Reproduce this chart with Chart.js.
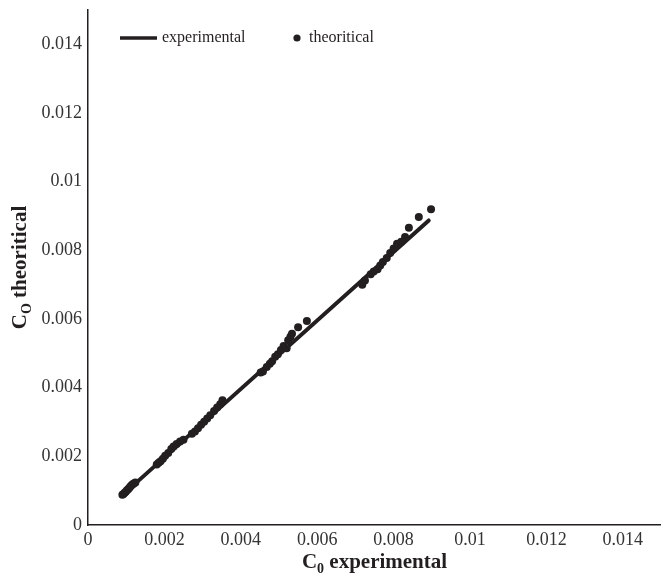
<!DOCTYPE html>
<html>
<head>
<meta charset="utf-8">
<script src="https://cdn.jsdelivr.net/npm/chart.js@4.4.0/dist/chart.umd.min.js"></script>
<style>
  html, body { margin: 0; padding: 0; background: #ffffff; overflow: hidden; }
  #wrap { width: 661px; height: 574px; }
</style>
</head>
<body>
<div id="wrap"><canvas id="chart" width="661" height="574"></canvas></div>
<script>
// Tick positions shared by both axes
const tickValues = [0, 0.002, 0.004, 0.006, 0.008, 0.01, 0.012, 0.014];

// Experimental reference line (C0 experimental against itself)
const experimentalX = [0.00090, 0.00892];
const experimentalY = [0.00087, 0.00887];

// Theoretical concentrations against the experimental ones
const theoreticalX = [
  0.00090, 0.00093, 0.00096, 0.00099, 0.00102, 0.00105, 0.00108, 0.00111, 0.00114, 0.00117, 0.00120, 0.00124,
  0.00180, 0.00185, 0.00190, 0.00196, 0.00202, 0.00210, 0.00218, 0.00224, 0.00232, 0.00241, 0.00250,
  0.00272, 0.00280, 0.00288, 0.00296, 0.00304, 0.00312, 0.00320, 0.00330, 0.00338, 0.00346, 0.00352,
  0.00452, 0.00458, 0.00468, 0.00476, 0.00482, 0.00490, 0.00497, 0.00505, 0.00512, 0.00520, 0.00524, 0.00530, 0.00534, 0.00550, 0.00573,
  0.00718, 0.00725, 0.00740, 0.00748, 0.00758, 0.00765, 0.00772, 0.00782, 0.00791, 0.00800, 0.00809, 0.00820, 0.00830, 0.00840, 0.00866, 0.00898
];
const theoreticalY = [
  0.00088, 0.00090, 0.00094, 0.00097, 0.00101, 0.00104, 0.00108, 0.00112, 0.00116, 0.00119, 0.00121, 0.00124,
  0.00176, 0.00181, 0.00186, 0.00193, 0.00202, 0.00210, 0.00221, 0.00229, 0.00236, 0.00243, 0.00248,
  0.00266, 0.00272, 0.00282, 0.00292, 0.00301, 0.00310, 0.00320, 0.00332, 0.00342, 0.00352, 0.00363,
  0.00444, 0.00447, 0.00460, 0.00470, 0.00477, 0.00490, 0.00497, 0.00510, 0.00521, 0.00515, 0.00538, 0.00548, 0.00557, 0.00576, 0.00594,
  0.00700, 0.00712, 0.00730, 0.00738, 0.00745, 0.00756, 0.00766, 0.00778, 0.00792, 0.00805, 0.00819, 0.00825, 0.00839, 0.00866, 0.00897, 0.00920
];

const seriesNames = ['experimental', 'theoritical'];

const INK = '#231f20';
const SERIF = '"Liberation Serif", "Times New Roman", serif';

const toPoints = (xs, ys) => xs.map((x, i) => ({ x: x, y: ys[i] }));

const fmt = v => String(+v.toFixed(4));

// Axis titles with subscripts, plus the legend row at the top
const decorations = {
  id: 'decorations',
  afterDraw(chart) {
    const ctx = chart.ctx;
    const area = chart.chartArea;

    function runWidth(parts) {
      let w = 0;
      parts.forEach(p => { ctx.font = p.font; w += ctx.measureText(p.t).width; });
      return w;
    }
    function drawRun(parts, x, y) {
      let cx = x;
      parts.forEach(p => {
        ctx.font = p.font;
        ctx.fillText(p.t, cx, y + (p.dy || 0));
        cx += ctx.measureText(p.t).width;
      });
    }

    ctx.save();
    ctx.fillStyle = INK;
    ctx.textBaseline = 'alphabetic';
    ctx.textAlign = 'left';

    const big = 'bold 21px ' + SERIF;
    const small = 'bold 14px ' + SERIF;

    // x-axis title
    const xParts = [
      { t: 'C', font: big },
      { t: '0', font: small, dy: 5 },
      { t: ' experimental', font: big }
    ];
    const xw = runWidth(xParts);
    drawRun(xParts, (area.left + area.right) / 2 - xw / 2, 568);

    // y-axis title, rotated
    const yParts = [
      { t: 'C', font: big },
      { t: 'O', font: small, dy: 5 },
      { t: ' theoritical', font: big }
    ];
    const yw = runWidth(yParts);
    ctx.translate(26, (area.top + area.bottom) / 2);
    ctx.rotate(-Math.PI / 2);
    drawRun(yParts, -yw / 2, 0);
    ctx.restore();

    // legend
    ctx.save();
    ctx.fillStyle = INK;
    ctx.strokeStyle = INK;
    ctx.font = '16px ' + SERIF;
    ctx.textBaseline = 'middle';
    ctx.textAlign = 'left';
    const ly = 38;
    ctx.lineWidth = 3.5;
    ctx.lineCap = 'butt';
    ctx.beginPath();
    ctx.moveTo(120, ly);
    ctx.lineTo(157, ly);
    ctx.stroke();
    ctx.fillText(chart.data.datasets[0].label, 162, ly);
    ctx.beginPath();
    ctx.arc(297, ly, 3.6, 0, Math.PI * 2);
    ctx.fill();
    ctx.fillText(chart.data.datasets[1].label, 309, ly);
    ctx.restore();
  }
};

new Chart(document.getElementById('chart'), {
  type: 'scatter',
  data: {
    datasets: [
      {
        label: seriesNames[0],
        type: 'line',
        data: toPoints(experimentalX, experimentalY),
        borderColor: INK,
        borderWidth: 4,
        borderCapStyle: 'round',
        pointRadius: 0,
        fill: false,
        order: 2
      },
      {
        label: seriesNames[1],
        data: toPoints(theoreticalX, theoreticalY),
        backgroundColor: INK,
        borderColor: INK,
        borderWidth: 0,
        pointRadius: 4,
        order: 1
      }
    ]
  },
  options: {
    responsive: false,
    animation: false,
    layout: { autoPadding: false, padding: { top: 10, right: 0, bottom: 0, left: 0 } },
    plugins: {
      legend: { display: false },
      tooltip: { enabled: false }
    },
    scales: {
      x: {
        type: 'linear',
        min: 0,
        max: 0.015,
        afterBuildTicks: axis => { axis.ticks = tickValues.map(v => ({ value: v })); },
        afterFit: axis => {
          axis.height = 49;
          axis.paddingLeft = 0;
          axis.paddingRight = 0;
        },
        grid: { display: false, drawTicks: false },
        border: { display: true, color: INK, width: 1.5 },
        ticks: {
          padding: 4,
          color: '#333333',
          font: { family: SERIF, size: 18 },
          maxRotation: 0,
          callback: v => fmt(v)
        }
      },
      y: {
        type: 'linear',
        min: 0,
        max: 0.015,
        afterBuildTicks: axis => { axis.ticks = tickValues.map(v => ({ value: v })); },
        afterFit: axis => {
          axis.width = 88;
          axis.paddingTop = 0;
          axis.paddingBottom = 0;
        },
        grid: { display: false, drawTicks: false },
        border: { display: true, color: INK, width: 1.5 },
        ticks: {
          padding: 6,
          color: '#333333',
          font: { family: SERIF, size: 18 },
          callback: v => fmt(v)
        }
      }
    }
  },
  plugins: [decorations]
});
</script>
</body>
</html>
